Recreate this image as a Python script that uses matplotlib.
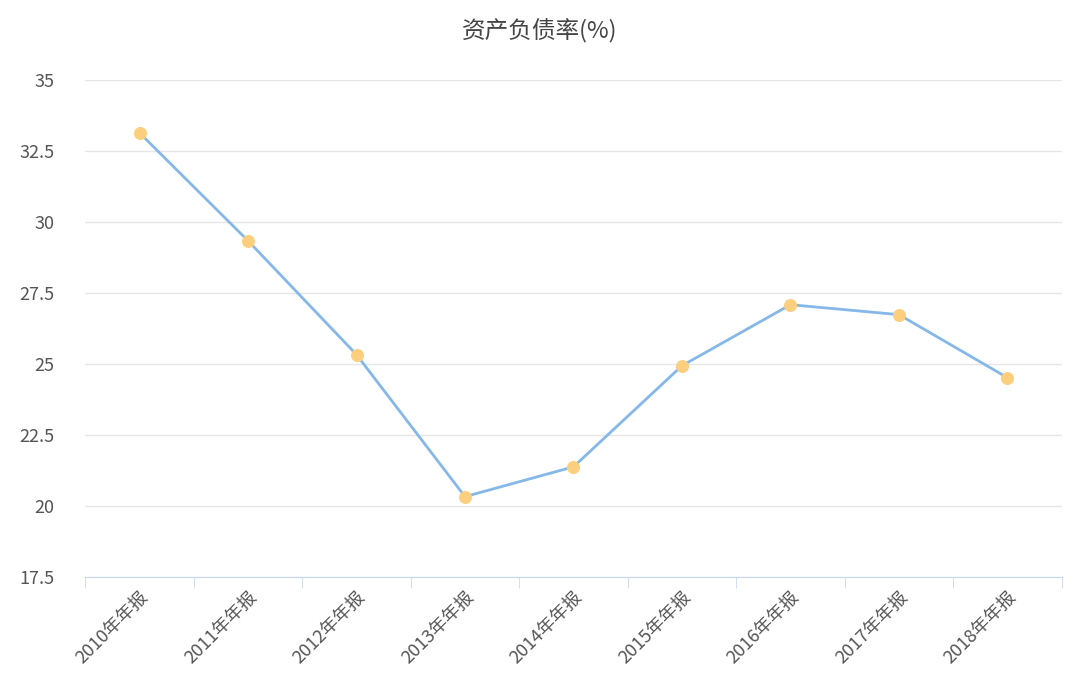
import matplotlib
matplotlib.use("Agg")
import matplotlib.pyplot as plt
import numpy as np

plt.rcParams['font.family'] = ['Noto Sans CJK SC', 'DejaVu Sans']

categories = ["2010年年报", "2011年年报", "2012年年报", "2013年年报", "2014年年报",
              "2015年年报", "2016年年报", "2017年年报", "2018年年报"]
values = [33.13, 29.33, 25.32, 20.32, 21.37, 24.93, 27.08, 26.73, 24.51]
yticks = [17.5, 20, 22.5, 25, 27.5, 30, 32.5, 35]
ytick_labels = ["17.5", "20", "22.5", "25", "27.5", "30", "32.5", "35"]

fig = plt.figure(figsize=(10.8, 6.94), dpi=100)
ax = fig.add_axes([0.079, 0.169, 0.904, 0.716])
x = np.arange(len(categories))
ax.plot(x, values, color='#85b8e8', lw=2, zorder=3)
ax.scatter(x, values, s=70, color='#fccf7f', zorder=4)
ax.set_xlim(-0.5, len(categories) - 0.5)
ax.set_ylim(17.5, 35)
ax.set_yticks(yticks)
ax.set_yticklabels(ytick_labels, fontsize=13, color='#555555')
ax.set_xticks(x)
ax.set_xticklabels(categories, rotation=45, ha='right', rotation_mode='anchor',
                   fontsize=13, color='#555555')
ax.tick_params(axis='y', length=0, pad=22)
ax.tick_params(axis='x', length=0, pad=8)
ax.set_xticks(np.arange(-0.5, len(categories)), minor=True)
ax.tick_params(axis='x', which='minor', length=8, color='#c8d8ea')
ax.grid(axis='y', color='#e6e6e6', lw=1)
for s in ['top', 'right', 'left']:
    ax.spines[s].set_visible(False)
ax.spines['bottom'].set_color('#c8d8ea')
ax.set_axisbelow(True)
fig.text(0.5, 0.955, "资产负债率(%)", ha='center', va='center', fontsize=17, color='#444444')
fig.savefig("out.png", dpi=100)
